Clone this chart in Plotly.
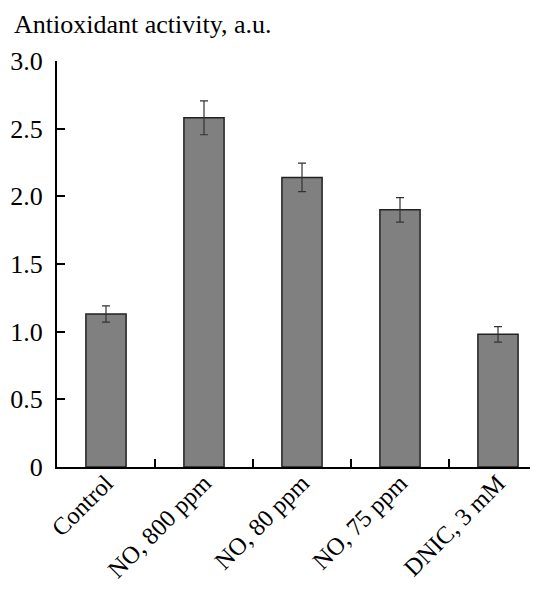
import plotly.graph_objects as go

categories = ["Control", "NO, 800 ppm", "NO, 80 ppm", "NO, 75 ppm", "DNIC, 3 mM"]
values = [1.13, 2.58, 2.14, 1.90, 0.98]
errors = [0.06, 0.125, 0.105, 0.09, 0.057]
ytick_vals = [0, 0.5, 1.0, 1.5, 2.0, 2.5, 3.0]
ytick_text = ["0", "0.5", "1.0", "1.5", "2.0", "2.5", "3.0"]
y_title = "Antioxidant activity, a.u."

font_family = "Liberation Serif, Times New Roman, serif"
FS = 26

# page has an 8px body margin; compensate in figure margins
L, T, B = 49, 53, 130
W, H = 538, 589
plot_w = W - L - 8
plot_h = H - T - B

fig = go.Figure()
fig.add_trace(go.Bar(
    x=categories,
    y=values,
    marker=dict(color="#808080", line=dict(color="#222222", width=1.5)),
    error_y=dict(type="data", array=errors, visible=True,
                 color="#333333", thickness=1.2, width=4),
    width=0.41,
))

fig.update_layout(
    width=W, height=H,
    margin=dict(l=L, r=8, t=T, b=B, autoexpand=False),
    plot_bgcolor="white", paper_bgcolor="white",
    showlegend=False,
    font=dict(family=font_family, size=FS, color="black"),
    xaxis=dict(
        type="category",
        automargin=False,
        range=[-0.5, -0.5 + plot_w / 98.0],
        showline=True, linecolor="black", linewidth=2,
        ticks="inside", ticklen=8, tickwidth=1.5, tickcolor="black",
        tickson="boundaries",
        tickangle=-45,
        ticklabelstandoff=-10,
        tickfont=dict(family=font_family, size=24.5, color="black"),
        showgrid=False, zeroline=False,
    ),
    yaxis=dict(
        range=[0, 3.0],
        automargin=False,
        tickvals=ytick_vals, ticktext=ytick_text,
        showline=True, linecolor="black", linewidth=2,
        ticks="inside", ticklen=8, tickwidth=1.5, tickcolor="black",
        tickfont=dict(family=font_family, size=FS, color="black"),
        ticklabelstandoff=7,
        showgrid=False, zeroline=False,
    ),
    annotations=[dict(
        text=y_title, xref="paper", yref="paper",
        x=(4 - L) / plot_w, y=1 + (T - 17) / plot_h,
        xanchor="left", yanchor="middle",
        showarrow=False,
        font=dict(family=font_family, size=FS, color="black"),
    )],
)

fig.write_html("out.html")
